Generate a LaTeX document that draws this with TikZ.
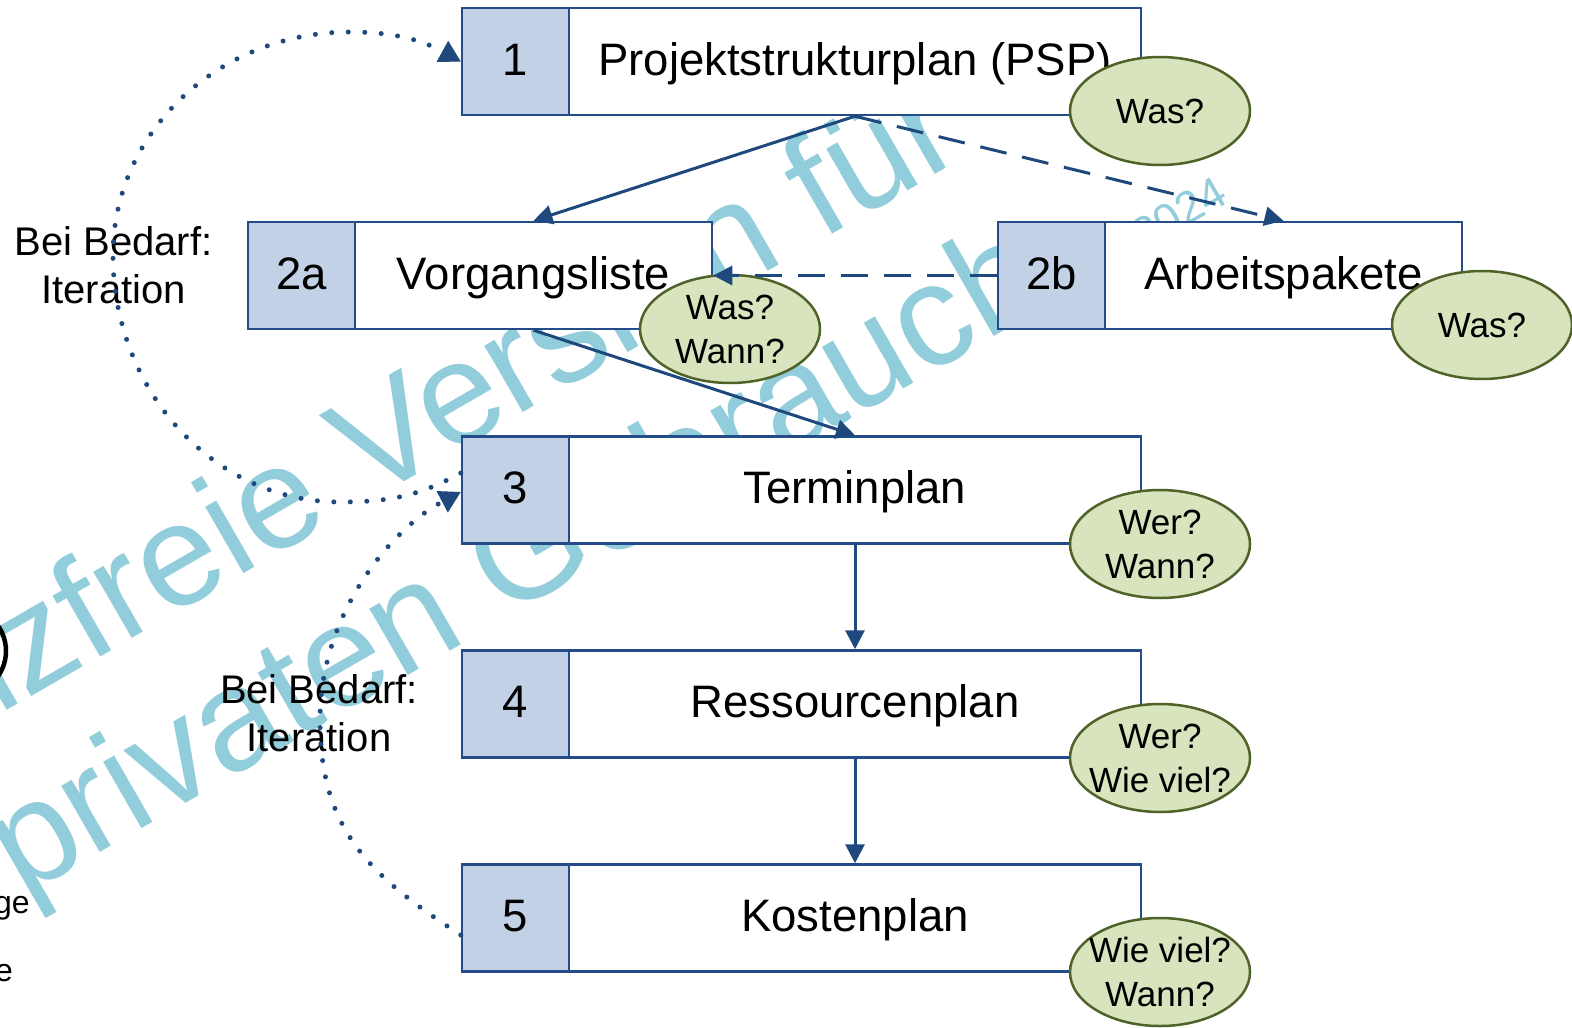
\documentclass[tikz,border=0pt]{standalone}
\usepackage{fontspec}
\setmainfont{Liberation Sans}
\usetikzlibrary{arrows.meta,shapes.geometric}
\definecolor{boxblue}{RGB}{36,76,136}
\definecolor{cellblue}{RGB}{194,209,229}
\definecolor{arrblue}{RGB}{31,73,125}
\definecolor{elfill}{RGB}{215,228,189}
\definecolor{eldraw}{RGB}{79,98,40}
\definecolor{wmblue}{RGB}{146,205,220}
\begin{document}
\begin{tikzpicture}[x=1pt,y=-1pt,
  numcell/.style={draw=boxblue, fill=cellblue, line width=2.5pt, minimum width=107pt,
    minimum height=107pt, inner sep=0pt, text height=37pt, text depth=10pt,
    font=\fontsize{45.5}{52}\selectfont},
  txtbox/.style={draw=boxblue, fill=white, line width=2.5pt, minimum height=107pt,
    inner sep=0pt, text height=37pt, text depth=10pt, font=\fontsize{45.5}{52}\selectfont},
  qbubble/.style={ellipse, draw=eldraw, fill=elfill, line width=2.5pt, minimum width=180pt,
    minimum height=108pt, inner ysep=0pt, inner xsep=-30pt, align=center,
    font=\fontsize{35}{44}\selectfont},
  sidelbl/.style={inner sep=0pt, align=center, font=\fontsize{40}{48}\selectfont},
  wmark/.style={inner sep=0pt, text=wmblue, anchor=base west, rotate=30},
  frag/.style={inner sep=0pt, anchor=base east, font=\fontsize{32}{38}\selectfont},
  solidarr/.style={draw=arrblue, line width=3pt, -{Triangle[length=19pt,width=19pt]}},
  dasharr/.style={draw=arrblue, line width=3pt, dash pattern=on 27pt off 16pt,
    -{Triangle[length=19pt,width=19pt]}},
  dotarr/.style={draw=arrblue, line width=5pt, line cap=round, dash pattern=on 0pt off 16.5pt,
    -{Triangle[length=21pt,width=24pt,line width=1pt]}}
]
\useasboundingbox (0,0) rectangle (1572,1028);
\clip (0,0) rectangle (1572,1028);
\fill[white] (0,0) rectangle (1572,1028);

% watermark
\node[wmark, font=\fontsize{145}{170}\selectfont] (wm1) at (-274,873) {Lizenzfreie Version für};
\node[wmark, font=\fontsize{145}{170}\selectfont] (wm2) at (22,898) {privaten Gebrauch};
\node[wmark, font=\fontsize{45}{50}\selectfont] (wm3) at (1143,252) {2024};

% cut-off fragments at the left edge
\node[draw, circle, line width=4.5pt, minimum size=88pt, inner sep=0pt] (ring) at (-38,651) {};
\node[frag] (f1) at (30,913) {ge};
\node[frag] (f2) at (13,981) {e};

% side labels
\node[sidelbl] (L1) at (113.5,264.8) {Bei Bedarf:\\Iteration};
\node[sidelbl] (L2) at (319,712.8) {Bei Bedarf:\\Iteration};

% boxes
\node[numcell] (n1) at (515.5,61.5) {1};
\node[txtbox, minimum width=572pt] (b1) at (855,61.5) {Projektstrukturplan (PSP)};
\node[numcell] (n2a) at (301.5,275.5) {2a};
\node[txtbox, minimum width=357pt] (b2a) at (533.5,275.5) {Vorgangsliste};
\node[numcell] (n2b) at (1051.5,275.5) {2b};
\node[txtbox, minimum width=357pt] (b2b) at (1283.5,275.5) {Arbeitspakete};
\node[numcell] (n3) at (515.5,490) {3};
\node[txtbox, minimum width=572pt] (b3) at (855,490) {Terminplan};
\node[numcell] (n4) at (515.5,704) {4};
\node[txtbox, minimum width=572pt] (b4) at (855,704) {Ressourcenplan};
\node[numcell] (n5) at (515.5,918) {5};
\node[txtbox, minimum width=572pt] (b5) at (855,918) {Kostenplan};

% question bubbles
\node[qbubble] (q1) at (1160,111) {Was?};
\node[qbubble] (q2a) at (730,329) {Was?\\Wann?};
\node[qbubble] (q2b) at (1482,325) {Was?};
\node[qbubble] (q3) at (1160,544) {Wer?\\Wann?};
\node[qbubble] (q4) at (1160,758) {Wer?\\Wie viel?};
\node[qbubble] (q5) at (1160,972) {Wie viel?\\Wann?};

% connectors
\draw[solidarr] (b1.south) -- (b2a.north);
\draw[dasharr] (b1.south) -- (b2b.north);
\draw[solidarr] (b2a.south) -- (b3.north);
\draw[dasharr] (n2b.west) -- (b2a.east);
\draw[solidarr] (b3.south) -- (b4.north);
\draw[solidarr] (b4.south) -- (b5.north);

% iteration loops
\draw[dotarr] ([yshift=17pt]n3.west) .. controls (419,496) and (389,502) .. (340,502)
  .. controls (214.6,502) and (113,391.4) .. (113,255)
  .. controls (113,131.8) and (219.1,32) .. (350,32)
  .. controls (395,32) and (422.3,40.4) .. (n1.west);
\draw[dotarr] ([yshift=-17pt]n5.west) .. controls (369.6,875.6) and (320,830) .. (320,720)
  .. controls (320,610) and (395.3,526.5) .. ([yshift=-2pt]n3.west);
\end{tikzpicture}
\end{document}
